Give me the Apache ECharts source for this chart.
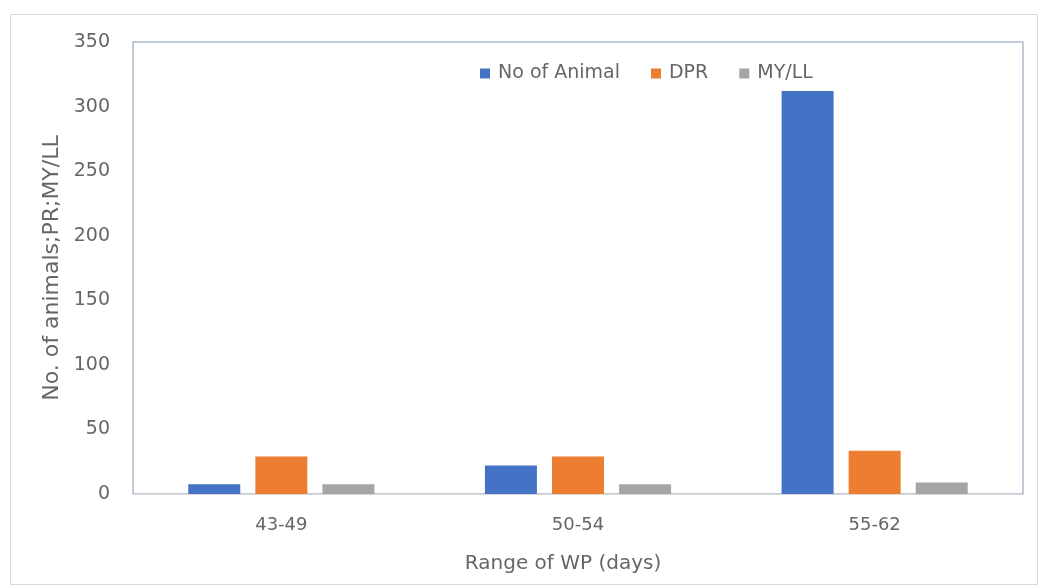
<!DOCTYPE html>
<html>
<head>
<meta charset="utf-8">
<script src="https://cdn.jsdelivr.net/npm/echarts@6/dist/echarts.min.js"></script>
<style>html,body{margin:0;padding:0;background:#fff;}#c{width:1040px;height:585px;}</style>
</head>
<body>
<div id="c"></div>
<script>
var categories = ['43-49', '50-54', '55-62'];
var seriesNames = ['No of Animal', 'DPR', 'MY/LL'];
var noOfAnimal = [7.5, 22, 312];
var dpr = [29, 29, 33.5];
var myll = [7.5, 7.5, 9];
var yTicks = [0, 50, 100, 150, 200, 250, 300, 350];

var colors = ['#4472C4', '#ED7D31', '#A5A5A5'];
var font = '"DejaVu Sans", sans-serif';
var txt = '#666666';
var chart = echarts.init(document.getElementById('c'));
chart.setOption({
  animation: false,
  color: colors,
  graphic: [{
    type: 'rect', left: 8, top: 12,
    shape: { width: 1027, height: 570 },
    style: { fill: 'none', stroke: '#d9d9d9', lineWidth: 1 }
  }],
  legend: {
    top: 59, left: 475,
    itemWidth: 10, itemHeight: 10, itemGap: 31,
    icon: 'rect',
    textStyle: { color: txt, fontSize: 19, fontFamily: font, padding: [0, 0, 0, 3] },
    data: seriesNames
  },
  grid: { left: 133, right: 17, top: 42, bottom: 91, show: true, borderColor: '#8496b0', borderWidth: 1 },
  xAxis: {
    type: 'category', data: categories,
    name: 'Range of WP (days)', nameLocation: 'middle', nameGap: 60,
    nameTextStyle: { color: txt, fontSize: 20, fontFamily: font, padding: [0, 30, 0, 0] },
    axisLine: { lineStyle: { color: '#d9d9d9' } },
    axisTick: { show: false },
    axisLabel: { color: txt, fontSize: 18, fontFamily: font, margin: 22 }
  },
  yAxis: {
    type: 'value', min: yTicks[0], max: yTicks[yTicks.length - 1], interval: 50,
    name: 'No. of animals;PR;MY/LL', nameLocation: 'middle', nameGap: 70,
    nameTextStyle: { color: txt, fontSize: 22, fontFamily: font },
    axisLine: { show: false }, axisTick: { show: false },
    splitLine: { show: false },
    axisLabel: { color: txt, fontSize: 19, fontFamily: font, margin: 23 }
  },
  series: [
    { name: seriesNames[0], type: 'bar', data: noOfAnimal, barWidth: 52, barGap: '29%' },
    { name: seriesNames[1], type: 'bar', data: dpr, barWidth: 52, barGap: '29%' },
    { name: seriesNames[2], type: 'bar', data: myll, barWidth: 52, barGap: '29%' }
  ]
});
</script>
</body>
</html>
